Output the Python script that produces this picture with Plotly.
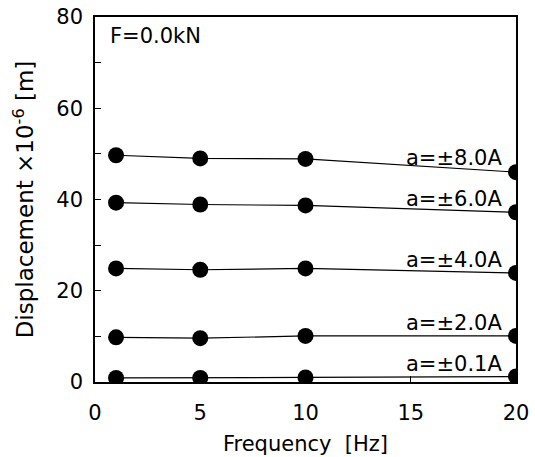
import numpy as np
import plotly.graph_objects as go

frequency = [1, 5, 10, 20]
series_labels = ["a=±8.0A", "a=±6.0A", "a=±4.0A", "a=±2.0A", "a=±0.1A"]
disp_8A = [49.7, 49.0, 48.9, 46.0]
disp_6A = [39.3, 38.9, 38.7, 37.2]
disp_4A = [24.9, 24.6, 24.9, 23.9]
disp_2A = [9.8, 9.6, 10.1, 10.1]
disp_01A = [0.9, 0.9, 1.0, 1.2]
all_series = [disp_8A, disp_6A, disp_4A, disp_2A, disp_01A]

x_ticks = [0, 5, 10, 15, 20]
y_ticks = [0, 20, 40, 60, 80]
y_minor_step = 10

FONT = "DejaVu Sans, Liberation Sans, Arial, sans-serif"

fig = go.Figure()
for vals in all_series:
    fig.add_trace(go.Scatter(
        x=frequency, y=vals, mode="lines+markers",
        line=dict(color="black", width=1.2),
        marker=dict(color="black", size=16),
        showlegend=False, hoverinfo="skip",
    ))

label_x = 19.45
for lab, vals in zip(series_labels, all_series):
    yl = float(np.interp(label_x, frequency, vals))
    fig.add_annotation(
        x=label_x, y=yl, xref="x", yref="y", text=lab, showarrow=False,
        xanchor="right", yanchor="bottom", yshift=-1,
        font=dict(family=FONT, size=21, color="black"),
    )

fig.add_annotation(
    x=0.03, y=0.985, xref="paper", yref="paper", text="F=0.0kN", showarrow=False,
    xanchor="left", yanchor="top",
    font=dict(family=FONT, size=21, color="black"),
)

axis_common = dict(
    showline=True, linecolor="black", linewidth=1.5, mirror=True,
    ticks="inside", ticklen=6, tickwidth=1.2, tickcolor="black",
    showgrid=False, zeroline=False, automargin=False,
    tickfont=dict(family=FONT, size=21, color="black"),
)

fig.update_xaxes(
    range=[0, 20], tickvals=x_ticks, ticktext=[str(v) for v in x_ticks],
    title=dict(text="Frequency  [Hz]", font=dict(family=FONT, size=21, color="black"), standoff=12),
    ticklabelstandoff=11,
    **axis_common,
)
fig.update_yaxes(
    range=[0, 80], tickvals=y_ticks, ticktext=[str(v) for v in y_ticks],
    minor=dict(tick0=0, dtick=y_minor_step, ticks="inside", ticklen=6, tickwidth=1.2,
               tickcolor="black", showgrid=False),
    title=dict(text="Displacement ×10<sup>-6</sup> [m]", font=dict(family=FONT, size=23, color="black"), standoff=16),
    ticklabelstandoff=6,
    **axis_common,
)

fig.update_layout(
    width=535, height=457,
    margin=dict(l=95, r=19, t=17, b=75),
    paper_bgcolor="white", plot_bgcolor="white",
    font=dict(family=FONT, color="black"),
)

fig.write_html("out.html")
